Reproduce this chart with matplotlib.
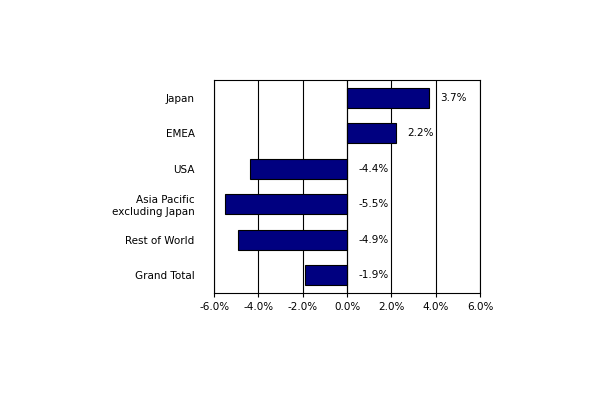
import matplotlib
matplotlib.use("Agg")
import matplotlib.pyplot as plt
from matplotlib.ticker import FuncFormatter

categories = ["Japan", "EMEA", "USA", "Asia Pacific\nexcluding Japan", "Rest of World", "Grand Total"]
values = [3.7, 2.2, -4.4, -5.5, -4.9, -1.9]

fig = plt.figure(figsize=(6.1, 4.0), dpi=100)
ax = fig.add_axes([0.351, 0.2675, 0.436, 0.5325])
y = list(range(len(categories)))
ax.barh(y, values, height=0.55, color="#000080", edgecolor="black", linewidth=0.8, zorder=3)
for yi, v in zip(y, values):
    ax.text(0.5 if v < 0 else v + 0.5, yi, f"{v:.1f}%", va="center", ha="left", fontsize=7.5)
ax.set_xlim(-6, 6)
ax.set_ylim(len(categories) - 0.5, -0.5)
ax.set_xticks([-6, -4, -2, 0, 2, 4, 6])
ax.xaxis.set_major_formatter(FuncFormatter(lambda x, p: f"{x:.1f}%"))
ax.set_yticks(y)
ax.set_yticklabels(categories, fontsize=7.5)
ax.tick_params(axis="x", labelsize=7.5, length=3)
ax.tick_params(axis="y", length=0, pad=14)
ax.grid(axis="x", color="black", linewidth=0.8, zorder=0)
for s in ax.spines.values():
    s.set_color("black"); s.set_linewidth(0.8)
ax.axvline(0, color="black", linewidth=0.8, zorder=4)
fig.savefig("out.png", dpi=100, facecolor="white")
